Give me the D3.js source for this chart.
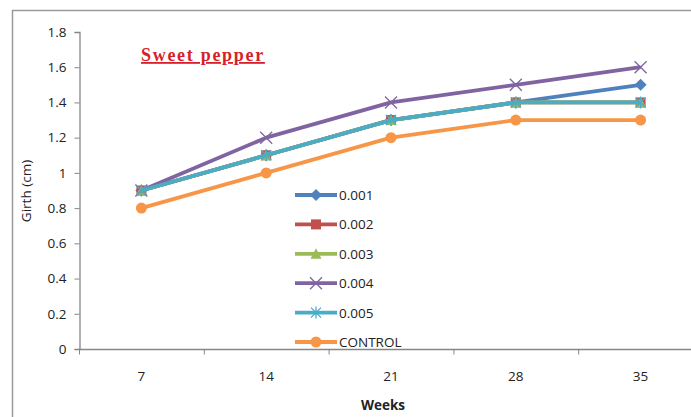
<!DOCTYPE html>
<html>
<head>
<meta charset="utf-8">
<script src="https://cdn.jsdelivr.net/npm/d3@7"></script>
<style>
  html, body { margin: 0; padding: 0; background: #fff; }
  svg { display: block; }
  text { font-family: "Open Sans", "Liberation Sans", sans-serif; }
</style>
</head>
<body>
<div id="chart"></div>
<script>
// Girth of sweet pepper plants by week, per treatment concentration
const weeks = ["7", "14", "21", "28", "35"];
const seriesNames = ["0.001", "0.002", "0.003", "0.004", "0.005", "CONTROL"];
const s0001 = [0.9, 1.1, 1.3, 1.4, 1.5];
const s0002 = [0.9, 1.1, 1.3, 1.4, 1.4];
const s0003 = [0.9, 1.1, 1.3, 1.4, 1.4];
const s0004 = [0.9, 1.2, 1.4, 1.5, 1.6];
const s0005 = [0.9, 1.1, 1.3, 1.4, 1.4];
const sControl = [0.8, 1.0, 1.2, 1.3, 1.3];
const yTicks = [0, 0.2, 0.4, 0.6, 0.8, 1, 1.2, 1.4, 1.6, 1.8];

const seriesValues = [s0001, s0002, s0003, s0004, s0005, sControl];
const colors = ["#4F81BD", "#C0504D", "#9BBB59", "#8064A2", "#4BACC6", "#F79646"];
const markers = ["diamond", "square", "triangle", "x", "star", "circle"];

const W = 691, H = 417;
const svg = d3.select("#chart").append("svg").attr("width", W).attr("height", H);

// outer chart frame
svg.append("path")
  .attr("d", `M12.5,${H} V10.5 H${W}`)
  .attr("fill", "none").attr("stroke", "#9a9a9a").attr("stroke-width", 1.5);

const plot = { left: 79, top: 32, bottom: 349, right: 703 };

const x = d3.scaleBand().domain(weeks).range([plot.left, plot.right]);
const y = d3.scaleLinear().domain([0, 1.8]).range([plot.bottom, plot.top]);

// y axis
const yAxis = svg.append("g").attr("transform", `translate(${plot.left + 0.5},0)`)
  .call(d3.axisLeft(y).tickValues(yTicks).tickSize(5).tickPadding(8)
    .tickFormat(d => d3.format("")(Math.round(d * 10) / 10)));
yAxis.select(".domain").attr("stroke", "#868686").attr("stroke-width", 1.3);
yAxis.selectAll(".tick line").attr("stroke", "#868686");
yAxis.selectAll(".tick text").attr("font-size", 13.5).attr("fill", "#222");

// x axis: ticks sit on category boundaries
const xAxisG = svg.append("g").attr("transform", `translate(0,${plot.bottom + 0.5})`);
xAxisG.append("line")
  .attr("x1", plot.left).attr("x2", W)
  .attr("stroke", "#868686").attr("stroke-width", 1.3);
xAxisG.selectAll("line.tk").data(weeks).join("line").attr("class", "tk")
  .attr("x1", d => x(d) + 0.5).attr("x2", d => x(d) + 0.5)
  .attr("y1", 0).attr("y2", 5).attr("stroke", "#868686");
xAxisG.selectAll("text").data(weeks).join("text")
  .attr("x", d => x(d) + x.bandwidth() / 2).attr("y", 31)
  .attr("text-anchor", "middle").attr("font-size", 13.5).attr("fill", "#222")
  .text(d => d);

// axis titles
svg.append("text").attr("x", 383).attr("y", 410).attr("text-anchor", "middle")
  .attr("font-size", 13.5).attr("font-weight", "bold").attr("fill", "#222").text("Weeks");
svg.append("text").attr("transform", "translate(31,191) rotate(-90)")
  .attr("text-anchor", "middle").attr("font-size", 13.5).attr("fill", "#222").text("Girth (cm)");

// chart title
svg.append("text").attr("x", 141).attr("y", 61)
  .style("font-family", "'Liberation Serif', 'DejaVu Serif', serif")
  .attr("font-size", 18).attr("font-weight", "bold").attr("fill", "#D71F2B")
  .attr("letter-spacing", 1.7)
  .attr("text-decoration", "underline").text("Sweet pepper");

function drawMarker(g, type, color, cx, cy) {
  const s = 5;
  if (type === "diamond") {
    g.append("path").attr("d", `M${cx},${cy - s - 1} L${cx + s + 1},${cy} L${cx},${cy + s + 1} L${cx - s - 1},${cy} Z`).attr("fill", color);
  } else if (type === "square") {
    g.append("rect").attr("x", cx - s).attr("y", cy - s).attr("width", 2 * s).attr("height", 2 * s).attr("fill", color);
  } else if (type === "triangle") {
    g.append("path").attr("d", `M${cx},${cy - s - 0.5} L${cx + s + 0.5},${cy + s} L${cx - s - 0.5},${cy + s} Z`).attr("fill", color);
  } else if (type === "x") {
    g.append("path").attr("d", `M${cx - s - 1},${cy - s - 1} L${cx + s + 1},${cy + s + 1} M${cx - s - 1},${cy + s + 1} L${cx + s + 1},${cy - s - 1}`)
      .attr("stroke", color).attr("stroke-width", 1.3);
  } else if (type === "star") {
    g.append("path").attr("d", `M${cx - s},${cy - s} L${cx + s},${cy + s} M${cx - s},${cy + s} L${cx + s},${cy - s} M${cx},${cy - s - 1} L${cx},${cy + s + 1}`)
      .attr("stroke", color).attr("stroke-width", 1.3);
  } else {
    g.append("circle").attr("cx", cx).attr("cy", cy).attr("r", s + 0.5).attr("fill", color);
  }
}

const line = d3.line().x((d, i) => x(weeks[i]) + x.bandwidth() / 2).y(d => y(d));

seriesValues.forEach((vals, k) => {
  const g = svg.append("g");
  g.append("path").datum(vals).attr("d", line)
    .attr("fill", "none").attr("stroke", colors[k]).attr("stroke-width", 3.8)
    .attr("stroke-linejoin", "round");
  vals.forEach((v, i) => drawMarker(g, markers[k], colors[k], x(weeks[i]) + x.bandwidth() / 2, y(v)));
});

// legend
const legend = svg.append("g");
seriesNames.forEach((name, k) => {
  const ly = 195 + k * 29.4;
  const g = legend.append("g");
  g.append("line").attr("x1", 295).attr("x2", 337).attr("y1", ly).attr("y2", ly)
    .attr("stroke", colors[k]).attr("stroke-width", 3.8);
  drawMarker(g, markers[k], colors[k], 316, ly);
  g.append("text").attr("x", 339).attr("y", ly + 5).attr("font-size", 13.5).attr("fill", "#222").text(name);
});
</script>
</body>
</html>
